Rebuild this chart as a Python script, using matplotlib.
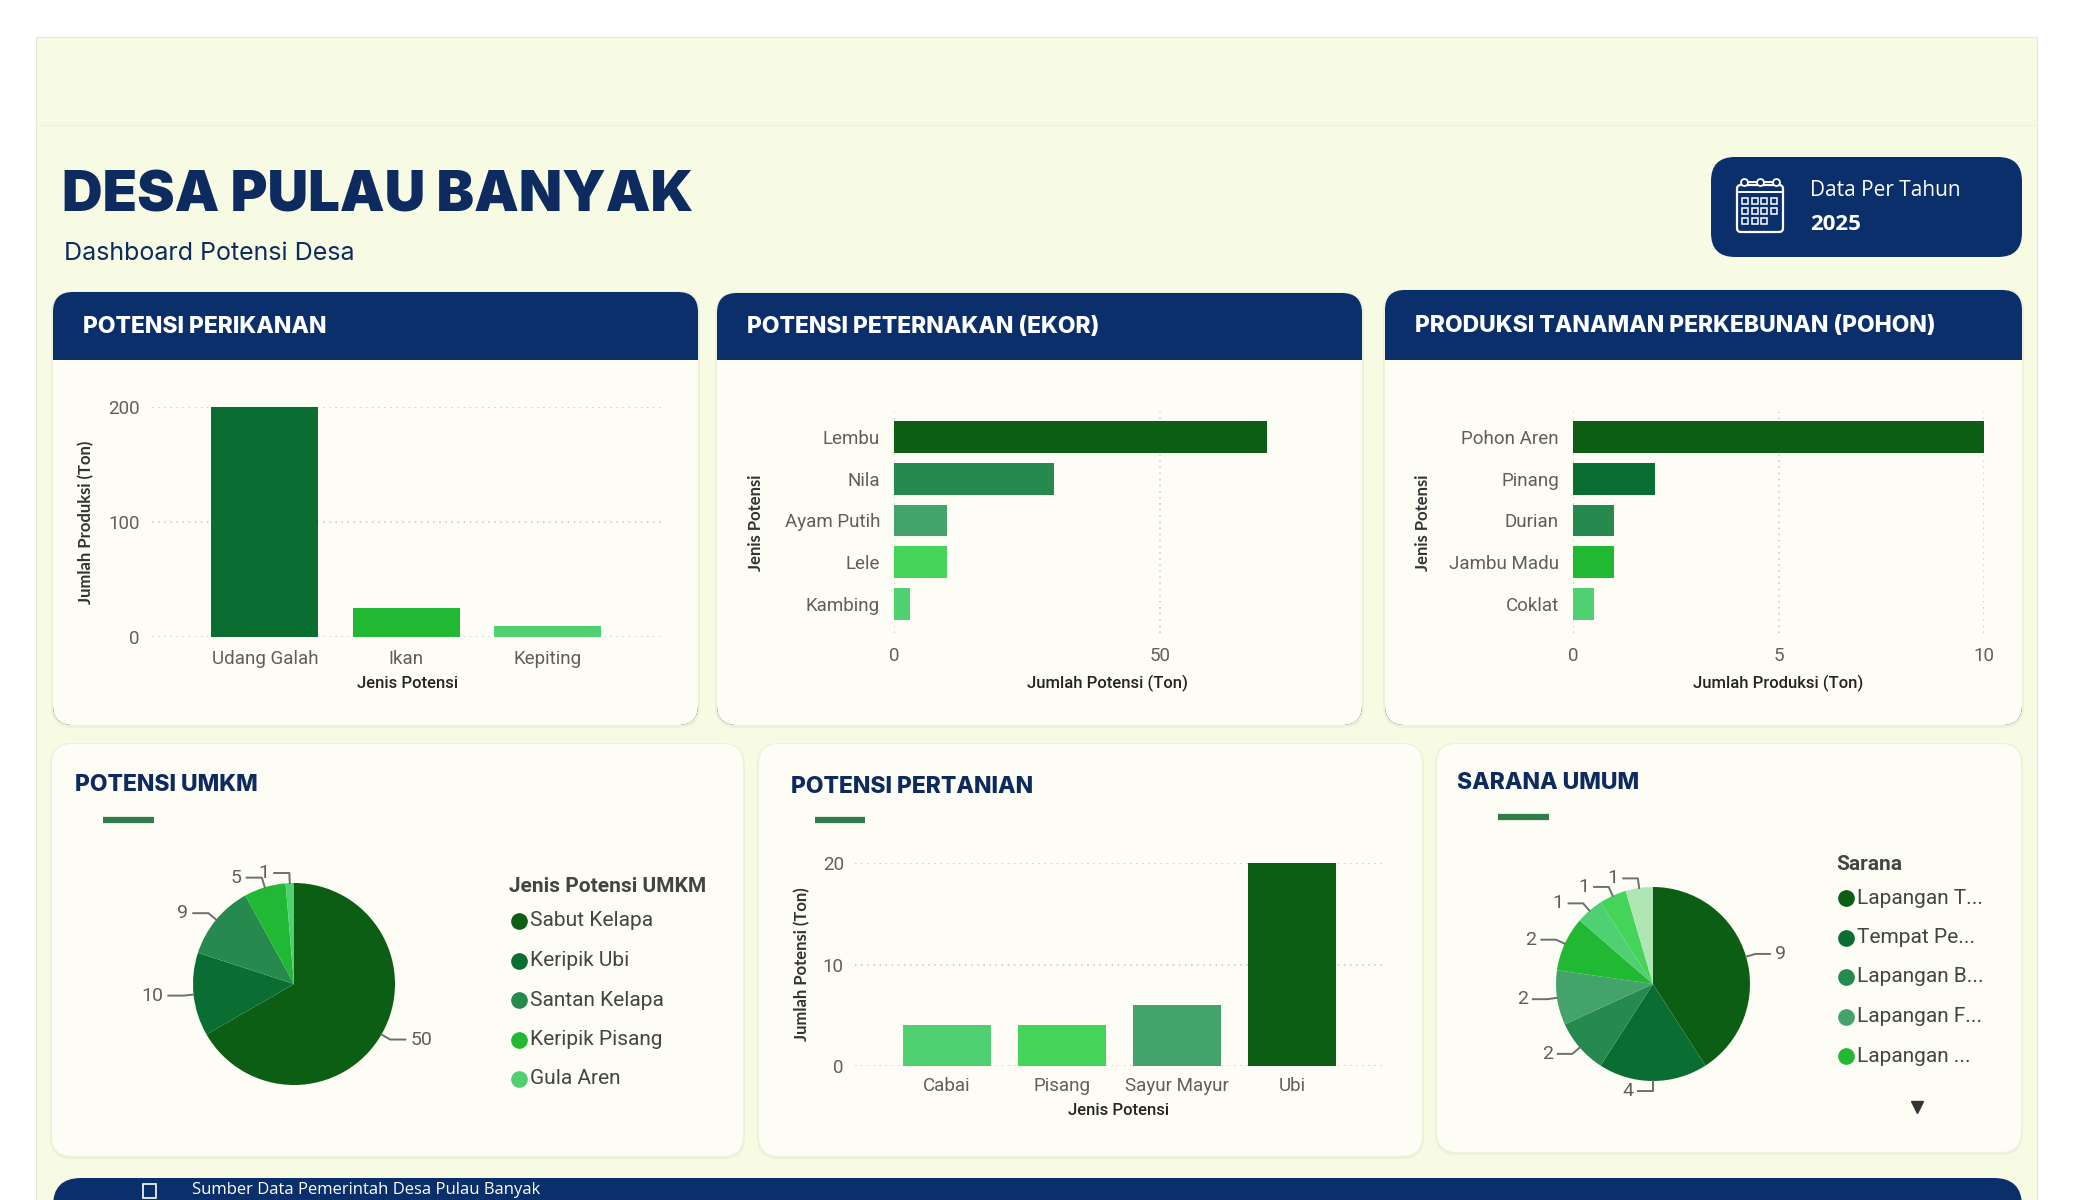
import numpy as np
import matplotlib
matplotlib.use('Agg')
import matplotlib.pyplot as plt
from matplotlib.patches import FancyBboxPatch, Rectangle

# ---- DATA ----
perikanan_jenis = ['Udang Galah', 'Ikan', 'Kepiting']
perikanan_ton = [200, 25, 10]
peternakan_jenis = ['Lembu', 'Nila', 'Ayam Putih', 'Lele', 'Kambing']
peternakan_ekor = [70, 30, 10, 10, 3]
perkebunan_jenis = ['Pohon Aren', 'Pinang', 'Durian', 'Jambu Madu', 'Coklat']
perkebunan_pohon = [10, 2, 1, 1, 0.5]
umkm_jenis = ['Sabut Kelapa', 'Keripik Ubi', 'Santan Kelapa', 'Keripik Pisang', 'Gula Aren']
umkm_nilai = [50, 10, 9, 5, 1]
pertanian_jenis = ['Cabai', 'Pisang', 'Sayur Mayur', 'Ubi']
pertanian_ton = [4, 4, 6, 20]
sarana_legenda = ['Lapangan T...', 'Tempat Pe...', 'Lapangan B...', 'Lapangan F...', 'Lapangan ...']
sarana_jumlah = [9, 4, 2, 2, 2, 1, 1, 1]

# ---- COLOURS ----
NAVY = '#0b2f6b'
PAGE = '#f7fbe4'
CARD = '#fdfdf5'
G1, G2, G3, G4 = '#0b5e14', '#0a6e32', '#268a4f', '#43a36a'
G5, G6, G7, G8 = '#21b834', '#4fd172', '#44d45a', '#b0e6b4'
col_perikanan = [G2, G5, G6]
col_peternakan = [G1, G3, G4, G7, G6]
col_perkebunan = [G1, G2, G3, G5, G6]
col_pertanian = [G6, G7, G4, G1]
col_umkm = [G1, G2, G3, G5, G6]
col_sarana = [G1, G2, G3, G4, G5, G6, G7, G8]

plt.rcParams['font.family'] = ['Roboto', 'DejaVu Sans']
TITLE_FONT = ['Inter', 'DejaVu Sans']

W, H = 2075, 1200
fig = plt.figure(figsize=(W / 100, H / 100), dpi=100)
fig.patch.set_facecolor('white')

bg = fig.add_axes([0, 0, 1, 1])
bg.set_xlim(0, W)
bg.set_ylim(H, 0)
bg.axis('off')


def px_axes(x0, y0, x1, y1):
    return fig.add_axes([x0 / W, 1 - y1 / H, (x1 - x0) / W, (y1 - y0) / H])


def rbox(x0, y0, x1, y1, r, fc, ec='none', lw=0, z=1):
    p = FancyBboxPatch((x0, y0), x1 - x0, y1 - y0,
                       boxstyle=f'round,pad=0,rounding_size={r}',
                       fc=fc, ec=ec, lw=lw, zorder=z)
    bg.add_patch(p)


def panel(x0, y0, x1, y1, header=None, hb=None):
    rbox(x0 - 2, y0 - 1, x1 + 2, y1 + 3, 22, '#ecf1da', z=1)
    if header:
        rbox(x0, y0, x1, y1, 20, NAVY, z=2)
        rbox(x0, hb, x1, y1, 20, CARD, z=3)
        bg.add_patch(Rectangle((x0, hb), x1 - x0, 30, fc=CARD, ec='none', zorder=3))
        bg.text(x0 + 30, (y0 + hb) / 2 + 1, header, color='white', fontsize=16.5,
                fontweight='heavy', family=TITLE_FONT, va='center', ha='left', zorder=4)
    else:
        rbox(x0, y0, x1, y1, 20, CARD, z=2)


def sub_title(x, y, text, ux0, ux1, uy):
    bg.text(x, y, text, color='#0d2b5e', fontsize=16.5, fontweight='heavy',
            family=TITLE_FONT, va='center', ha='left', zorder=5)
    bg.plot([ux0, ux1], [uy, uy], color='#2e7d4a', lw=4.5, solid_capstyle='butt', zorder=5)


# page background
bg.add_patch(Rectangle((36, 37), 2001, 1170, fc=PAGE, ec='#e3e6da', lw=0.8, zorder=0))
bg.plot([36, 2037], [125, 125], color='#eef3dc', lw=1, zorder=0.5)

# header texts
bg.text(62, 196, 'DESA PULAU BANYAK', color='#0d2b5e', fontsize=40.5, fontweight='black',
        family=TITLE_FONT, va='center', ha='left', zorder=5)
bg.text(64, 254, 'Dashboard Potensi Desa', color='#0d2b5e', fontsize=18,
        family=TITLE_FONT, va='center', ha='left', zorder=5)

# date box
rbox(1711, 157, 2022, 257, 24, NAVY, z=2)
bg.text(1810, 191, 'Data Per Tahun', color='white', fontsize=15, family=['Open Sans', 'DejaVu Sans'],
        va='center', ha='left', zorder=5)
bg.text(1810, 224, '2025', color='white', fontsize=16, fontweight='bold',
        family=['Open Sans', 'DejaVu Sans'], va='center', ha='left', zorder=5)
# calendar icon
rbox(1737, 185, 1783, 232, 4, 'none', ec='white', lw=1.6, z=5)
bg.plot([1737, 1783], [192, 192], color='white', lw=1.4, zorder=5)
bg.plot([1744, 1776], [182, 182], color='white', lw=1.4, zorder=5)
for cx in [1744, 1760, 1776]:
    bg.plot(cx, 182, 'o', ms=5, mfc=NAVY, mec='white', mew=1.3, zorder=6)
for row, ncol in enumerate([4, 4, 3]):
    for c in range(ncol):
        bg.add_patch(Rectangle((1742 + c * 9.5, 198 + row * 10), 6, 6, fc='none',
                               ec='white', lw=1.1, zorder=6))

# top panels
panel(53, 292, 698, 725, 'POTENSI PERIKANAN', 360)
panel(717, 293, 1362, 725, 'POTENSI PETERNAKAN (EKOR)', 360)
panel(1385, 290, 2022, 725, 'PRODUKSI TANAMAN PERKEBUNAN (POHON)', 360)

# bottom panels
panel(52, 744, 743, 1156)
panel(759, 744, 1422, 1156)
panel(1437, 744, 2021, 1152)
sub_title(75, 785, 'POTENSI UMKM', 103, 154, 820)
sub_title(791, 787, 'POTENSI PERTANIAN', 815, 865, 820)
sub_title(1457, 783, 'SARANA UMUM', 1498, 1549, 817)

# bottom banner
rbox(53, 1178, 2022, 1260, 28, NAVY, z=2)
bg.add_patch(Rectangle((143, 1184), 13, 14, fc='none', ec='white', lw=1.2, zorder=5))
bg.text(192, 1190, 'Sumber Data Pemerintah Desa Pulau Banyak', color='white', fontsize=12,
        family=['Open Sans', 'DejaVu Sans'], va='center', ha='left', zorder=5)

TICK_C = '#605e5c'
LAB_C = '#252423'
GRID = dict(color='#c6c6c6', linestyle=(0, (1, 3)), linewidth=1.1)


def style_axes(ax):
    ax.set_facecolor('none')
    for s in ax.spines.values():
        s.set_visible(False)
    ax.set_axisbelow(True)
    for lbl in ax.get_xticklabels() + ax.get_yticklabels():
        lbl.set_fontsize(13.5)
        lbl.set_color(TICK_C)


def axis_titles(ax, xlab, ylab, xpos, ypos):
    ax.set_xlabel(xlab, fontsize=12, color=LAB_C, fontweight='medium')
    ax.set_ylabel(ylab, fontsize=12, color='#333333', fontweight='bold',
                  family=['Lato', 'DejaVu Sans'])
    ax.xaxis.set_label_coords(*xpos)
    ax.yaxis.set_label_coords(*ypos)
    ax.xaxis.label.set_va('center')
    ax.yaxis.label.set_va('center')


# ---- POTENSI PERIKANAN ----
ax1 = px_axes(152, 407, 663, 637)
ax1.bar(range(len(perikanan_jenis)), perikanan_ton, width=0.757, color=col_perikanan, zorder=2)
ax1.set_xlim(-0.8, 2.82)
ax1.set_ylim(0, 200)
ax1.set_yticks([0, 100, 200])
ax1.set_xticks(range(len(perikanan_jenis)))
ax1.set_xticklabels(perikanan_jenis)
ax1.grid(axis='y', **GRID)
ax1.tick_params(length=0, pad=9)
style_axes(ax1)
axis_titles(ax1, 'Jenis Potensi', 'Jumlah Produksi (Ton)', (0.5, -0.2), (-0.129, 0.5))

# ---- POTENSI PETERNAKAN ----
ax2 = px_axes(894, 412, 1320, 633)
ax2.barh(range(len(peternakan_jenis)), peternakan_ekor, height=0.76, color=col_peternakan, zorder=2)
ax2.set_xlim(0, 80)
ax2.set_ylim(4.7, -0.6)
ax2.set_xticks([0, 50])
ax2.set_yticks(range(len(peternakan_jenis)))
ax2.set_yticklabels(peternakan_jenis)
ax2.grid(axis='x', **GRID)
ax2.tick_params(length=0, pad=10)
style_axes(ax2)
axis_titles(ax2, 'Jumlah Potensi (Ton)', 'Jenis Potensi', (0.5, -0.226), (-0.324, 0.5))

# ---- PRODUKSI TANAMAN PERKEBUNAN ----
ax3 = px_axes(1573, 412, 1984, 633)
ax3.barh(range(len(perkebunan_jenis)), perkebunan_pohon, height=0.76, color=col_perkebunan, zorder=2)
ax3.set_xlim(0, 10)
ax3.set_ylim(4.7, -0.6)
ax3.set_xticks([0, 5, 10])
ax3.set_yticks(range(len(perkebunan_jenis)))
ax3.set_yticklabels(perkebunan_jenis)
ax3.grid(axis='x', **GRID)
ax3.tick_params(length=0, pad=10)
style_axes(ax3)
axis_titles(ax3, 'Jumlah Produksi (Ton)', 'Jenis Potensi', (0.5, -0.226), (-0.365, 0.5))

# ---- POTENSI PERTANIAN ----
ax4 = px_axes(855, 863, 1383, 1066)
ax4.bar(range(len(pertanian_jenis)), pertanian_ton, width=0.765, color=col_pertanian, zorder=2)
ax4.set_xlim(-0.8, 3.79)
ax4.set_ylim(0, 20)
ax4.set_yticks([0, 10, 20])
ax4.set_xticks(range(len(pertanian_jenis)))
ax4.set_xticklabels(pertanian_jenis)
ax4.grid(axis='y', **GRID)
ax4.tick_params(length=0, pad=8)
style_axes(ax4)
axis_titles(ax4, 'Jenis Potensi', 'Jumlah Potensi (Ton)', (0.5, -0.217), (-0.1, 0.5))


# ---- PIES ----
def pie_chart(cx, cy, r, values, colors):
    L = 1.6
    ax = px_axes(cx - L * r, cy - L * r, cx + L * r, cy + L * r)
    wedges, _ = ax.pie(values, colors=colors, startangle=90, counterclock=False,
                       radius=1, wedgeprops=dict(linewidth=0))
    ax.set_xlim(-L, L)
    ax.set_ylim(-L, L)
    ax.set_aspect('equal')
    ax.axis('off')
    for w, v in zip(wedges, values):
        ang = np.deg2rad((w.theta1 + w.theta2) / 2)
        ux, uy = np.cos(ang), np.sin(ang)
        side = 1 if ux > 0.02 else -1
        p0 = (ux, uy)
        p1 = (1.1 * ux, 1.1 * uy)
        p2 = (p1[0] + side * 0.15, p1[1])
        ax.plot([p0[0], p1[0], p2[0]], [p0[1], p1[1], p2[1]], color='#6e6e6e',
                lw=1.4, clip_on=False)
        ax.text(p2[0] + side * 0.05, p2[1], f'{v:g}', ha='left' if side > 0 else 'right',
                va='center', fontsize=14, color='#605e5c')
    return ax


pie_chart(294, 984, 101, umkm_nilai, col_umkm)
pie_chart(1653, 984, 97, sarana_jumlah, col_sarana)


def legend(x, y, title, labels, colors, step=39.5):
    bg.text(x - 10, y, title, fontsize=15, fontweight='bold', color='#444444',
            va='center', ha='left', zorder=6)
    for i, (lab, c) in enumerate(zip(labels, colors)):
        yy = y + 34 + i * step
        bg.plot(x, yy, 'o', ms=11, color=c, zorder=6)
        bg.text(x + 11, yy, lab, fontsize=15, color='#444444', va='center', ha='left', zorder=6)


legend(519, 887, 'Jenis Potensi UMKM', umkm_jenis, col_umkm)
legend(1846, 864, 'Sarana', sarana_legenda, col_sarana)
bg.plot(1917, 1107, 'v', ms=8, color='#333333', zorder=6)

fig.savefig('out.png', dpi=100, facecolor=fig.get_facecolor())
